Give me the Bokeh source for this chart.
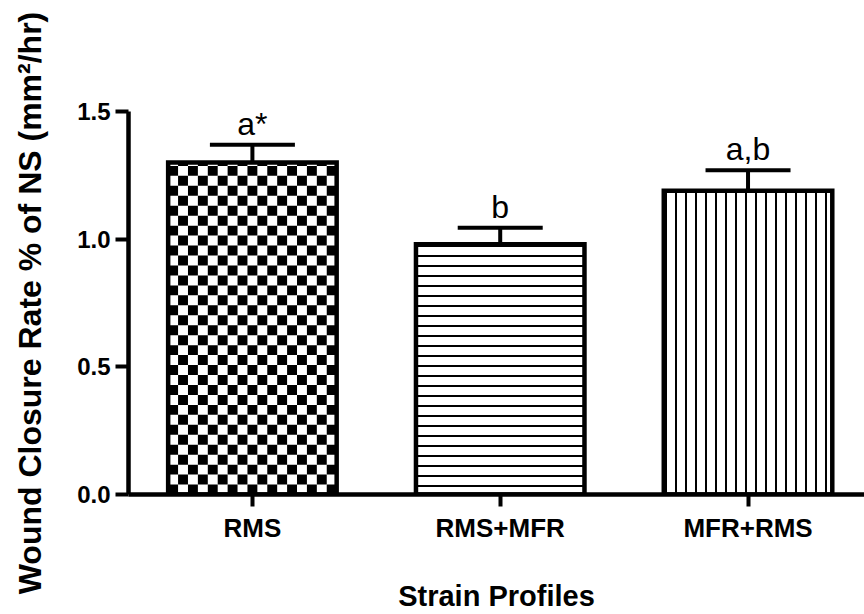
import math
from bokeh.plotting import figure
from bokeh.models import (Range1d, FixedTicker, Whisker, TeeHead, ColumnDataSource,
                          PrintfTickFormatter, LabelSet)
from bokeh.core.properties import value
from bokeh.embed import file_html
from bokeh.resources import INLINE

# ---- data ----
categories = ["RMS", "RMS+MFR", "MFR+RMS"]
means = [1.30, 0.98, 1.19]
sem = [0.07, 0.065, 0.08]
letters = ["a*", "b", "a,b"]
y_ticks = [0.0, 0.5, 1.0, 1.5]

xs = [i + 0.5 for i in range(len(categories))]
upper = [m + s for m, s in zip(means, sem)]
src = ColumnDataSource(dict(x=xs, top=means, upper=upper, lab=letters))

FONT = "Liberation Sans"
BAR_W = 0.68

p = figure(width=864, height=614, output_backend="svg", toolbar_location=None,
           x_range=Range1d(0, 2.97), y_range=Range1d(0, 1.5),
           min_border_left=128, min_border_right=0, min_border_top=111,
           min_border_bottom=118)
p.grid.visible = False
p.outline_line_color = None
p.background_fill_color = "white"

# bar fills (hatch patterns for 2nd and 3rd bars)
patterns = [None, "horizontal_line", "vertical_line"]
for i in range(len(categories)):
    p.vbar(x=[xs[i]], top=[means[i]], bottom=0, width=BAR_W,
           fill_color="white", line_color=None,
           hatch_pattern=patterns[i], hatch_color="black", hatch_scale=10,
           hatch_weight=2)

# checkerboard fill of the first bar, built from its value and width
ncol = 17
cw = BAR_W / ncol
ch = 0.039
nrow = math.ceil(means[0] / ch)
left0 = xs[0] - BAR_W / 2
ql, qr, qb, qt = [], [], [], []
for r in range(nrow):
    for c in range(ncol):
        if (r + c) % 2 == 0:
            b = r * ch
            t = min((r + 1) * ch, means[0])
            if t > b:
                ql.append(left0 + c * cw)
                qr.append(left0 + (c + 1) * cw)
                qb.append(b)
                qt.append(t)
p.quad(left=ql, right=qr, bottom=qb, top=qt, fill_color="black", line_color=None)

# bar outlines
p.vbar(x="x", top="top", bottom=0, width=BAR_W, source=src, fill_color=None,
       line_color="black", line_width=4.5, line_join="miter")

wh = Whisker(base="x", upper="upper", lower="top", source=src, dimension="height",
             line_width=4, line_color="black",
             upper_head=TeeHead(size=85, line_width=4, line_color="black"),
             lower_head=None)
p.add_layout(wh)

labels = LabelSet(x="x", y="upper", text="lab", source=src, text_align="center",
                  text_baseline="alphabetic", y_offset=10, text_color="black",
                  text_font=value(FONT), text_font_size=value("32px"))
p.add_layout(labels)

# x axis
xa = p.xaxis[0]
xa.ticker = FixedTicker(ticks=xs)
xa.major_label_overrides = {x: c for x, c in zip(xs, categories)}
xa.axis_line_width = 4.5
xa.axis_line_color = "black"
xa.major_tick_line_width = 4
xa.major_tick_out = 12
xa.major_tick_in = 0
xa.minor_tick_line_color = None
xa.major_label_text_font = FONT
xa.major_label_text_font_style = "bold"
xa.major_label_text_font_size = "26px"
xa.major_label_text_color = "black"
xa.major_label_standoff = 6
xa.axis_label = "Strain Profiles"
xa.axis_label_text_font = FONT
xa.axis_label_text_font_style = "bold"
xa.axis_label_text_font_size = "29px"
xa.axis_label_text_color = "black"
xa.axis_label_standoff = 34

# y axis
ya = p.yaxis[0]
ya.ticker = FixedTicker(ticks=y_ticks)
ya.bounds = (0, 1.5)
ya.formatter = PrintfTickFormatter(format="%.1f")
ya.axis_line_width = 4.5
ya.axis_line_color = "black"
ya.major_tick_line_width = 4
ya.major_tick_out = 13
ya.major_tick_in = 0
ya.minor_tick_line_color = None
ya.major_label_text_font = FONT
ya.major_label_text_font_style = "bold"
ya.major_label_text_font_size = "24px"
ya.major_label_text_color = "black"
ya.major_label_standoff = 5
ya.axis_label = "Wound Closure Rate % of NS (mm\u00b2/hr)"
ya.axis_label_text_font = FONT
ya.axis_label_text_font_style = "bold"
ya.axis_label_text_font_size = "32px"
ya.axis_label_text_color = "black"
ya.axis_label_standoff = 26

open("out.html", "w").write(file_html(p, INLINE))
